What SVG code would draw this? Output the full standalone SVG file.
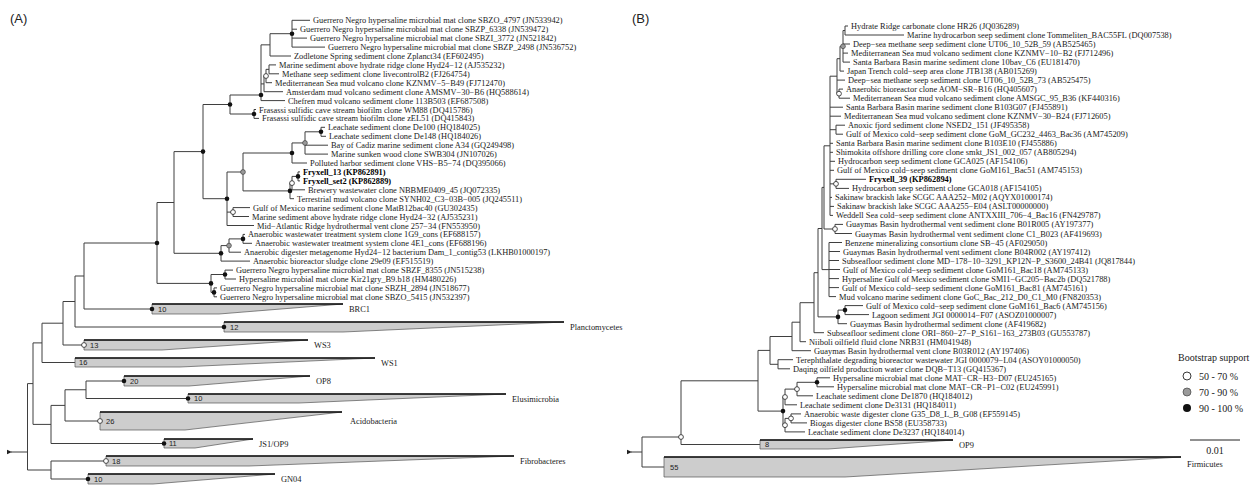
<svg xmlns="http://www.w3.org/2000/svg" width="1258" height="485" viewBox="0 0 1258 485">
<style>
.br{fill:none;stroke:#3f3f3f;stroke-width:1}
.t{font-family:"Liberation Serif","Times New Roman",serif;font-size:8.4px;fill:#1a1a1a}
.tb{font-family:"Liberation Serif","Times New Roman",serif;font-size:8.4px;font-weight:bold;fill:#000}
.lg{font-family:"Liberation Serif","Times New Roman",serif;font-size:10px;fill:#1a1a1a}
.num{font-family:"Liberation Sans",Arial,sans-serif;font-size:7.5px;fill:#222}
.pl{font-family:"Liberation Sans",Arial,sans-serif;font-size:13px;fill:#222}
.tri{fill:#cdcdcd;stroke:#555;stroke-width:0.7}
.top{stroke:#111;stroke-width:1.4}
.nb{fill:#111}
.ng{fill:#9a9a9a;stroke:#333;stroke-width:0.6}
.no{fill:#fff;stroke:#222;stroke-width:0.8}
</style>
<defs>
<marker id="arr" markerWidth="6" markerHeight="6" refX="1" refY="3" orient="auto-start-reverse" markerUnits="userSpaceOnUse">
<path d="M0,3 L5,0.8 L5,5.2 Z" fill="#222"/>
</marker>
</defs>
<rect width="1258" height="485" fill="#fff"/>
<g id="panel-labels">
<text class="pl" x="10" y="23">(A)</text>
<text class="pl" x="632" y="23">(B)</text>
</g>

<g id="connectors-A">
<path class="br" d="M292 20.3V47.1 M292 20.3H310 M292 29.2H297 M292 38.1H307 M292 47.1H325
M270 33.7V56 M270 33.7H292 M270 56H291
M269 64.9V73.8 M269 64.9H276 M269 73.8H279
M266 69.35V82.7 M266 69.35H269 M266 82.7H272
M264 76V91.7 M264 76H266 M264 91.7H283
M261 44.85V100.6 M261 44.85H270 M261 83.9H264 M261 100.6H285
M254 109.5V118.4 M254 109.5H256 M254 118.4H259
M230 95V114 M230 95H261 M230 114H254
M321 127.3V136.3 M321 127.3H325 M321 136.3H326
M305 131.8V154.1 M305 131.8H321 M305 145.2H328 M305 154.1H328
M292 142.95V163 M292 142.95H305 M292 163H307
M298 171.9V180.9 M298 171.9H300 M298 180.9H300
M292 176.4V189.8 M292 176.4H298 M292 189.8H305
M290 183.1V198.7 M290 183.1H292 M290 198.7H294
M243 153V190.9 M243 153H292 M243 190.9H290
M233 207.6V216.5 M233 207.6H250 M233 216.5H249
M227 172V225.5 M227 172H243 M227 212.1H233 M227 225.5H254
M203 104.5V198.7 M203 104.5H230 M203 198.7H227
M243 234.4V243.3 M243 234.4H245 M243 243.3H252
M229 238.9V252.2 M229 238.9H243 M229 252.2H241
M221 245.6V261.1 M221 245.6H229 M221 261.1H250
M174 151.6V253.3 M174 151.6H203 M174 253.3H221
M225 270.1V279 M225 270.1H233 M225 279H236
M214 287.9V296.8 M214 287.9H217 M214 296.8H217
M211 274.5V292.4 M211 274.5H225 M211 292.4H214
M157 202.5V283.4 M157 202.5H174 M157 283.4H211
M84 243V309 M84 243H157 M84 309H152
M75 276V327 M75 276H84 M75 327H224
M63 301.5V345 M63 301.5H75 M63 345H84
M42 323.2V362.5 M42 323.2H63 M42 362.5H75
M86 381V398.5 M86 381H124 M86 398.5H188
M65 389.75V421 M65 389.75H86 M65 421H100
M51 405.4V443.5 M51 405.4H65 M51 443.5H164
M33 342.9V424.4 M33 342.9H42 M33 424.4H51
M51 461V479 M51 461H106 M51 479H88
M27.5 383.6V470 M27.5 383.6H33 M27.5 470H51"/>
<path class="br" d="M27.5 452H11" marker-end="url(#arr)"/>
</g>

<g id="connectors-B">
<path class="br" d="M845 26V35 M845 26H848 M845 35H904
M843 30.5V62.1 M843 30.5H845 M843 44H850 M843 53.1H848 M843 62.1H850
M840 46.3V71.1 M840 46.3H843 M840 71.1H844
M839 89.1V98.2 M839 89.1H843 M839 98.2H850
M837 58.7V93.65 M837 58.7H840 M837 80.1H845 M837 93.65H839
M836 125.2V134.2 M836 125.2H845 M836 134.2H843
M836 179.3V188.4 M836 179.3H866 M836 188.4H849
M830 76.2V215.4 M830 76.2H837 M830 107.2H843 M830 116.2H841 M830 129.7H836 M830 143.3H833 M830 152.3H833 M830 161.3H835 M830 170.3H834 M830 183.85H836 M830 197.4H832 M830 206.4H834 M830 215.4H833
M835 224.4V233.5 M835 224.4H843 M835 233.5H852
M824 145.8V229 M824 145.8H830 M824 229H835
M829 242.5V296.6 M829 242.5H842 M829 251.5H840 M829 260.5H839 M829 269.5H840 M829 278.6H839 M829 287.6H839 M829 296.6H836
M822 187.4V269.6 M822 187.4H824 M822 269.6H829
M845 305.6V314.6 M845 305.6H863 M845 314.6H869
M838 310.1V323.7 M838 310.1H845 M838 323.7H847
M818 228.5V316.9 M818 228.5H822 M818 316.9H838
M814 272.7V332.7 M814 272.7H818 M814 332.7H824
M800 302.7V341.7 M800 302.7H814 M800 341.7H806
M792 322.2V350.7 M792 322.2H800 M792 350.7H811
M778 359.7V368.8 M778 359.7H793 M778 368.8H790
M770 336.5V364.3 M770 336.5H792 M770 364.3H778
M817 377.8V386.8 M817 377.8H830 M817 386.8H834
M797 382.3V395.8 M797 382.3H817 M797 395.8H813
M785 389.1V404.8 M785 389.1H797 M785 404.8H797
M791 413.9V422.9 M791 413.9H801 M791 422.9H807
M785 418.4V431.9 M785 418.4H791 M785 431.9H805
M783 397V425.2 M783 397H785 M783 425.2H785
M758 350.4V411.1 M758 350.4H770 M758 411.1H783
M681 380.8V444.5 M681 380.8H758 M681 444.5H760
M642 437V467 M642 437H681 M642 467H664"/>
<path class="br" d="M642 452H631" marker-end="url(#arr)"/>
</g>

<g id="collapsed-A">
<g id="clade-BRC1"><polygon class="tri" points="152,304 343,304 219,314 152,314"/><line class="top" x1="152" y1="304" x2="343" y2="304"/><text class="num" x="158" y="311.8">10</text><text class="t" x="349" y="312">BRC1</text></g>
<g id="clade-Planctomycetes"><polygon class="tri" points="224,322 564,322 343,332 224,332"/><line class="top" x1="224" y1="322" x2="564" y2="322"/><text class="num" x="230" y="329.8">12</text><text class="t" x="570" y="330">Planctomycetes</text></g>
<g id="clade-WS3"><polygon class="tri" points="84,340 308,340 162,350 84,350"/><line class="top" x1="84" y1="340" x2="308" y2="340"/><text class="num" x="90" y="347.8">13</text><text class="t" x="314" y="348">WS3</text></g>
<g id="clade-WS1"><polygon class="tri" points="75,358 375,358 180,367 75,367"/><line class="top" x1="75" y1="358" x2="375" y2="358"/><text class="num" x="79" y="365.3">16</text><text class="t" x="381" y="365.5">WS1</text></g>
<g id="clade-OP8"><polygon class="tri" points="124,376 310,376 189,386 124,386"/><line class="top" x1="124" y1="376" x2="310" y2="376"/><text class="num" x="130" y="383.8">20</text><text class="t" x="316" y="384">OP8</text></g>
<g id="clade-Elusimicrobia"><polygon class="tri" points="188,394 506,394 299,403 188,403"/><line class="top" x1="188" y1="394" x2="506" y2="394"/><text class="num" x="194" y="401.3">10</text><text class="t" x="512" y="401.5">Elusimicrobia</text></g>
<g id="clade-Acidobacteria"><polygon class="tri" points="100,412 342,412 185,430 100,430"/><line class="top" x1="100" y1="412" x2="342" y2="412"/><text class="num" x="106" y="423.8">26</text><text class="t" x="350" y="424">Acidobacteria</text></g>
<g id="clade-JS1OP9"><polygon class="tri" points="164,439 253,439 195,448 164,448"/><line class="top" x1="164" y1="439" x2="253" y2="439"/><text class="num" x="169" y="446.3">11</text><text class="t" x="259" y="446.5">JS1/OP9</text></g>
<g id="clade-Fibrobacteres"><polygon class="tri" points="106,456 514,456 249,466 106,466"/><line class="top" x1="106" y1="456" x2="514" y2="456"/><text class="num" x="112" y="463.8">18</text><text class="t" x="520" y="464">Fibrobacteres</text></g>
<g id="clade-GN04"><polygon class="tri" points="88,474 275,474 153,484 88,484"/><line class="top" x1="88" y1="474" x2="275" y2="474"/><text class="num" x="94" y="481.8">10</text><text class="t" x="281" y="482">GN04</text></g>
</g>

<g id="collapsed-B">
<g id="clade-OP9"><polygon class="tri" points="760,440 953,440 828,449 760,449"/><line class="top" x1="760" y1="440" x2="953" y2="440"/><text class="num" x="765" y="447.3">8</text><text class="t" x="959" y="447.5">OP9</text></g>
<g id="clade-Firmicutes"><polygon class="tri" points="664,457 1181,457 845,477 664,477"/><line class="top" x1="664" y1="457" x2="1181" y2="457"/><text class="num" x="670" y="470">55</text><text class="t" x="1187" y="467">Firmicutes</text></g>
</g>

<g id="bootstrap-A">
<circle class="nb" cx="292" cy="33.7" r="2.3"/><circle class="nb" cx="261" cy="95" r="2.3"/><circle class="nb" cx="254" cy="114" r="2.3"/><circle class="nb" cx="230" cy="104.5" r="2.3"/><circle class="nb" cx="321" cy="131.8" r="2.3"/><circle class="nb" cx="292" cy="153" r="2.3"/><circle class="nb" cx="298" cy="176.4" r="2.3"/><circle class="nb" cx="290" cy="190.9" r="2.3"/><circle class="nb" cx="227" cy="198.7" r="2.3"/><circle class="nb" cx="203" cy="151.6" r="2.3"/><circle class="nb" cx="243" cy="238.9" r="2.3"/><circle class="nb" cx="221" cy="253.3" r="2.3"/><circle class="nb" cx="225" cy="274.5" r="2.3"/><circle class="nb" cx="214" cy="292.4" r="2.3"/><circle class="nb" cx="211" cy="283.4" r="2.3"/><circle class="nb" cx="157" cy="243" r="2.3"/><circle class="nb" cx="152" cy="309" r="2.3"/><circle class="nb" cx="224" cy="327" r="2.3"/><circle class="nb" cx="124" cy="381" r="2.3"/><circle class="nb" cx="188" cy="398.5" r="2.3"/><circle class="nb" cx="164" cy="443.5" r="2.3"/><circle class="nb" cx="88" cy="479" r="2.3"/>
<circle class="ng" cx="305" cy="142.95" r="2.4"/><circle class="ng" cx="243" cy="172" r="2.4"/><circle class="ng" cx="229" cy="245.6" r="2.4"/>
<circle class="no" cx="266" cy="76" r="2.4"/><circle class="no" cx="292" cy="183.1" r="2.4"/><circle class="no" cx="233" cy="212.1" r="2.4"/><circle class="no" cx="84" cy="345" r="2.4"/><circle class="no" cx="100" cy="421" r="2.4"/><circle class="no" cx="106" cy="461" r="2.4"/>
</g>

<g id="bootstrap-B">
<circle class="ng" cx="843" cy="46.3" r="2.4"/>
<circle class="no" cx="839" cy="93.65" r="2.4"/><circle class="no" cx="836" cy="183.85" r="2.4"/><circle class="no" cx="835" cy="229" r="2.4"/><circle class="no" cx="797" cy="389.1" r="2.4"/><circle class="no" cx="785" cy="397" r="2.4"/><circle class="no" cx="791" cy="418.4" r="2.4"/><circle class="no" cx="785" cy="425.2" r="2.4"/><circle class="no" cx="681" cy="437" r="2.4"/>
<circle class="nb" cx="845" cy="310.1" r="2.3"/><circle class="nb" cx="838" cy="316.9" r="2.3"/><circle class="nb" cx="817" cy="382.3" r="2.3"/><circle class="nb" cx="783" cy="411.1" r="2.3"/>
</g>

<g id="leaves-A">
<g id="a1"><text class="t" x="313" y="23.3">Guerrero Negro hypersaline microbial mat clone SBZO_4797 (JN533942)</text></g>
<g id="a2"><text class="t" x="300" y="32.2">Guerrero Negro hypersaline microbial mat clone SBZP_6338 (JN539472)</text></g>
<g id="a3"><text class="t" x="310" y="41.1">Guerrero Negro hypersaline microbial mat clone SBZI_3772 (JN521842)</text></g>
<g id="a4"><text class="t" x="328" y="50.1">Guerrero Negro hypersaline microbial mat clone SBZP_2498 (JN536752)</text></g>
<g id="a5"><text class="t" x="294" y="59">Zodletone Spring sediment clone Zplanct34 (EF602495)</text></g>
<g id="a6"><text class="t" x="279" y="67.9">Marine sediment above hydrate ridge clone Hyd24−12 (AJ535232)</text></g>
<g id="a7"><text class="t" x="282" y="76.8">Methane seep sediment clone livecontrolB2 (FJ264754)</text></g>
<g id="a8"><text class="t" x="275" y="85.7">Mediterranean Sea mud volcano clone KZNMV−5−B49 (FJ712470)</text></g>
<g id="a9"><text class="t" x="286" y="94.7">Amsterdam mud volcano sediment clone AMSMV−30−B6 (HQ588614)</text></g>
<g id="a10"><text class="t" x="288" y="103.6">Chefren mud volcano sediment clone 113B503 (EF687508)</text></g>
<g id="a11"><text class="t" x="259" y="112.5">Frasassi sulfidic cave stream biofilm clone WM88 (DQ415786)</text></g>
<g id="a12"><text class="t" x="262" y="121.4">Frasassi sulfidic cave stream biofilm clone zEL51 (DQ415843)</text></g>
<g id="a13"><text class="t" x="328" y="130.3">Leachate sediment clone De100 (HQ184025)</text></g>
<g id="a14"><text class="t" x="329" y="139.3">Leachate sediment clone De148 (HQ184026)</text></g>
<g id="a15"><text class="t" x="331" y="148.2">Bay of Cadiz marine sediment clone A34 (GQ249498)</text></g>
<g id="a16"><text class="t" x="331" y="157.1">Marine sunken wood clone SWB304 (JN107026)</text></g>
<g id="a17"><text class="t" x="310" y="166">Polluted harbor sediment clone VHS−B5−74 (DQ395066)</text></g>
<g id="a18"><text class="tb" x="303" y="174.9">Fryxell_13 (KP862891)</text></g>
<g id="a19"><text class="tb" x="303" y="183.9">Fryxell_set2 (KP862889)</text></g>
<g id="a20"><text class="t" x="308" y="192.8">Brewery wastewater clone NBBME0409_45 (JQ072335)</text></g>
<g id="a21"><text class="t" x="297" y="201.7">Terrestrial mud volcano clone SYNH02_C3−03B−005 (JQ245511)</text></g>
<g id="a22"><text class="t" x="253" y="210.6">Gulf of Mexico marine sediment clone MatB12bac40 (GU302435)</text></g>
<g id="a23"><text class="t" x="252" y="219.5">Marine sediment above hydrate ridge clone Hyd24−32 (AJ535231)</text></g>
<g id="a24"><text class="t" x="257" y="228.5">Mid−Atlantic Ridge hydrothermal vent clone 257−34 (FN553950)</text></g>
<g id="a25"><text class="t" x="248" y="237.4">Anaerobic wastewater treatment system clone 1G9_cons (EF688157)</text></g>
<g id="a26"><text class="t" x="255" y="246.3">Anaerobic wastewater treatment system clone 4E1_cons (EF688196)</text></g>
<g id="a27"><text class="t" x="244" y="255.2">Anaerobic digester metagenome Hyd24−12 bacterium Dam_1_contig53 (LKHB01000197)</text></g>
<g id="a28"><text class="t" x="253" y="264.1">Anaerobic bioreactor sludge clone 29e09 (EF515519)</text></g>
<g id="a29"><text class="t" x="236" y="273.1">Guerrero Negro hypersaline microbial mat clone SBZF_8355 (JN515238)</text></g>
<g id="a30"><text class="t" x="239" y="282">Hypersaline microbial mat clone Kir21gry_B9.b18 (HM480226)</text></g>
<g id="a31"><text class="t" x="220" y="290.9">Guerrero Negro hypersaline microbial mat clone SBZH_2894 (JN518677)</text></g>
<g id="a32"><text class="t" x="220" y="299.8">Guerrero Negro hypersaline microbial mat clone SBZO_5415 (JN532397)</text></g>
</g>

<g id="leaves-B">
<g id="b1"><text class="t" x="851" y="29">Hydrate Ridge carbonate clone HR26 (JQ036289)</text></g>
<g id="b2"><text class="t" x="907" y="38">Marine hydrocarbon seep sediment clone Tommeliten_BAC55FL (DQ007538)</text></g>
<g id="b3"><text class="t" x="853" y="47">Deep−sea methane seep sediment clone UT06_10_52B_59 (AB525465)</text></g>
<g id="b4"><text class="t" x="851" y="56.1">Mediterranean Sea mud volcano sediment clone KZNMV−10−B2 (FJ712496)</text></g>
<g id="b5"><text class="t" x="853" y="65.1">Santa Barbara Basin marine sediment clone 10bav_C6 (EU181470)</text></g>
<g id="b6"><text class="t" x="847" y="74.1">Japan Trench cold−seep area clone JTB138 (AB015269)</text></g>
<g id="b7"><text class="t" x="848" y="83.1">Deep−sea methane seep sediment clone UT06_10_52B_73 (AB525475)</text></g>
<g id="b8"><text class="t" x="846" y="92.1">Anaerobic bioreactor clone AOM−SR−B16 (HQ405607)</text></g>
<g id="b9"><text class="t" x="853" y="101.2">Mediterranean Sea mud volcano sediment clone AMSGC_95_B36 (KF440316)</text></g>
<g id="b10"><text class="t" x="846" y="110.2">Santa Barbara Basin marine sediment clone B103G07 (FJ455891)</text></g>
<g id="b11"><text class="t" x="844" y="119.2">Mediterranean Sea mud volcano sediment clone KZNMV−30−B24 (FJ712605)</text></g>
<g id="b12"><text class="t" x="848" y="128.2">Anoxic fjord sediment clone NSED2_151 (JF495358)</text></g>
<g id="b13"><text class="t" x="846" y="137.2">Gulf of Mexico cold−seep sediment clone GoM_GC232_4463_Bac36 (AM745209)</text></g>
<g id="b14"><text class="t" x="836" y="146.3">Santa Barbara Basin marine sediment clone B103E10 (FJ455886)</text></g>
<g id="b15"><text class="t" x="836" y="155.3">Shimokita offshore drilling core clone smkt_JS1_002_057 (AB805294)</text></g>
<g id="b16"><text class="t" x="838" y="164.3">Hydrocarbon seep sediment clone GCA025 (AF154106)</text></g>
<g id="b17"><text class="t" x="837" y="173.3">Gulf of Mexico cold−seep sediment clone GoM161_Bac51 (AM745153)</text></g>
<g id="b18"><text class="tb" x="869" y="182.3">Fryxell_39 (KP862894)</text></g>
<g id="b19"><text class="t" x="852" y="191.4">Hydrocarbon seep sediment clone GCA018 (AF154105)</text></g>
<g id="b20"><text class="t" x="835" y="200.4">Sakinaw brackish lake SCGC AAA252−M02 (AQYX01000174)</text></g>
<g id="b21"><text class="t" x="837" y="209.4">Sakinaw brackish lake SCGC AAA255−E04 (ASLT00000000)</text></g>
<g id="b22"><text class="t" x="836" y="218.4">Weddell Sea cold−seep sediment clone ANTXXIII_706−4_Bac16 (FN429787)</text></g>
<g id="b23"><text class="t" x="846" y="227.4">Guaymas Basin hydrothermal vent sediment clone B01R005 (AY197377)</text></g>
<g id="b24"><text class="t" x="855" y="236.5">Guaymas Basin hydrothermal vent sediment clone C1_B023 (AF419693)</text></g>
<g id="b25"><text class="t" x="845" y="245.5">Benzene mineralizing consortium clone SB−45 (AF029050)</text></g>
<g id="b26"><text class="t" x="843" y="254.5">Guaymas Basin hydrothermal vent sediment clone B04R002 (AY197412)</text></g>
<g id="b27"><text class="t" x="842" y="263.5">Subseafloor sediment clone MD−178−10−3291_KP12N−P_S3600_24B41 (JQ817844)</text></g>
<g id="b28"><text class="t" x="843" y="272.5">Gulf of Mexico cold−seep sediment clone GoM161_Bac18 (AM745133)</text></g>
<g id="b29"><text class="t" x="842" y="281.6">Hypersaline Gulf of Mexico sediment clone SMI1−GC205−Bac2b (DQ521788)</text></g>
<g id="b30"><text class="t" x="842" y="290.6">Gulf of Mexico cold−seep sediment clone GoM161_Bac81 (AM745161)</text></g>
<g id="b31"><text class="t" x="839" y="299.6">Mud volcano marine sediment clone GoC_Bac_212_D0_C1_M0 (FN820353)</text></g>
<g id="b32"><text class="t" x="866" y="308.6">Gulf of Mexico cold−seep sediment clone GoM161_Bac6 (AM745156)</text></g>
<g id="b33"><text class="t" x="872" y="317.6">Lagoon sediment JGI 0000014−F07 (ASOZ01000007)</text></g>
<g id="b34"><text class="t" x="850" y="326.7">Guaymas Basin hydrothermal sediment clone (AF419682)</text></g>
<g id="b35"><text class="t" x="827" y="335.7">Subseafloor sediment clone ORI−860−27−P_S161−163_273B03 (GU553787)</text></g>
<g id="b36"><text class="t" x="809" y="344.7">Niiboli oilfield fluid clone NRB31 (HM041948)</text></g>
<g id="b37"><text class="t" x="814" y="353.7">Guaymas Basin hydrothermal vent clone B03R012 (AY197406)</text></g>
<g id="b38"><text class="t" x="796" y="362.7">Terephthalate degrading bioreactor wastewater JGI 0000079−L04 (ASOY01000050)</text></g>
<g id="b39"><text class="t" x="793" y="371.8">Daqing oilfield production water clone DQB−T13 (GQ415367)</text></g>
<g id="b40"><text class="t" x="833" y="380.8">Hypersaline microbial mat clone MAT−CR−H3−D07 (EU245165)</text></g>
<g id="b41"><text class="t" x="837" y="389.8">Hypersaline microbial mat clone MAT−CR−P1−C02 (EU245991)</text></g>
<g id="b42"><text class="t" x="816" y="398.8">Leachate sediment clone De1870 (HQ184012)</text></g>
<g id="b43"><text class="t" x="800" y="407.8">Leachate sediment clone De3131 (HQ184011)</text></g>
<g id="b44"><text class="t" x="804" y="416.9">Anaerobic waste digester clone G35_D8_L_B_G08 (EF559145)</text></g>
<g id="b45"><text class="t" x="810" y="425.9">Biogas digester clone BS58 (EU358733)</text></g>
<g id="b46"><text class="t" x="808" y="434.9">Leachate sediment clone De3237 (HQ184014)</text></g>
</g>

<g id="legend">
<text class="lg" x="1178" y="361">Bootstrap support</text>
<circle cx="1187" cy="376" r="4" fill="#fff" stroke="#222" stroke-width="0.9"/><text class="lg" x="1199" y="379.5">50 - 70 %</text>
<circle cx="1187" cy="392" r="4" fill="#9a9a9a" stroke="#444" stroke-width="0.7"/><text class="lg" x="1199" y="395.5">70 - 90 %</text>
<circle cx="1187" cy="408" r="4" fill="#111"/><text class="lg" x="1199" y="411.5">90 - 100 %</text>
</g>
<g id="scalebar">
<line x1="1190" y1="440" x2="1240" y2="440" stroke="#222" stroke-width="1"/>
<text class="lg" x="1215" y="454" text-anchor="middle">0.01</text>
</g>
</svg>
